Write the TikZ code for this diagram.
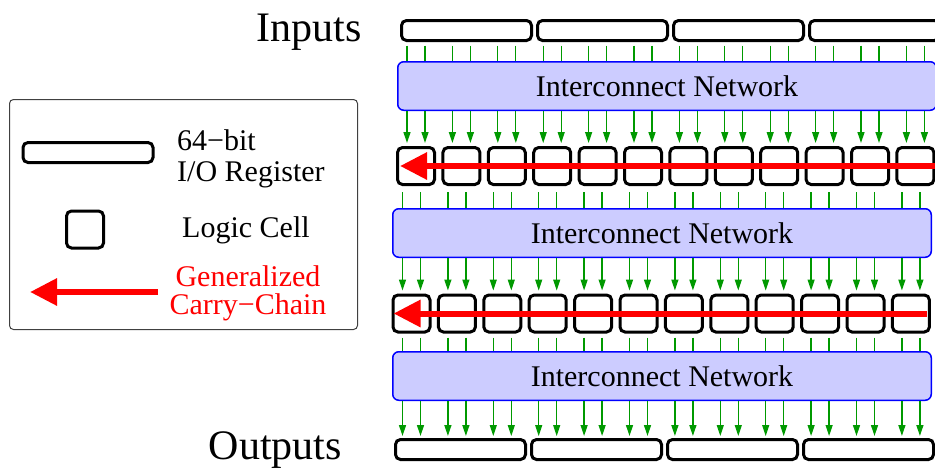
\documentclass[tikz,border=0pt]{standalone}
\usepackage{fontspec}
\setmainfont{Liberation Serif}
\usetikzlibrary{arrows.meta,positioning}

\begin{document}
\begin{tikzpicture}[x=1pt, y=-1pt, node distance=136pt,
  reg/.style = {draw, line width=3pt, rounded corners=5pt, minimum width=130pt, minimum height=20pt, inner sep=0pt},
  cell/.style = {draw, line width=3pt, rounded corners=5pt, minimum size=37pt, inner sep=0pt},
  net/.style = {draw=blue, fill=blue!20, line width=1.5pt, rounded corners=6pt, minimum width=538.5pt, minimum height=48.5pt, font=\fontsize{30}{30}\selectfont},
  link/.style = {draw=green!60!black, line width=1.3pt},
  feed/.style = {link, -{Triangle[length=11pt, width=7pt]}, shorten >=3pt},
  carry/.style = {draw=red, line width=6pt, -{Triangle[length=27pt, width=26pt]}},
  title/.style = {font=\fontsize{42}{42}\selectfont, inner sep=0pt},
  key/.style = {font=\fontsize{30}{31}\selectfont, inner sep=0pt}]

\useasboundingbox (0,0) rectangle (935,472);

% I/O registers
\node[reg] (in1) at (466.5,30.5) {};
\node[reg] (in2) [right of=in1] {};
\node[reg] (in3) [right of=in2] {};
\node[reg] (in4) [right of=in3] {};

\node[reg] (out1) at (460.5,449.5) {};
\node[reg] (out2) [right of=out1] {};
\node[reg] (out3) [right of=out2] {};
\node[reg] (out4) [right of=out3] {};

\node[title, anchor=base east] (inputs) at (362,41) {Inputs};
\node[title, anchor=base east] (outputs) at (342,459) {Outputs};

% networks
\node[net] (net1) at (667,86) {Interconnect Network};
\node[net] (net2) at (662,233) {Interconnect Network};
\node[net] (net3) at (662,376) {Interconnect Network};

% logic cells
\node[cell] (a1) at (416,166) {};
\node[cell] (b1) at (411.5,313.5) {};
\foreach \i [count=\j] in {2,...,12} {
  \node[cell, node distance=45.4pt] (a\i) [right of=a\j] {};
  \node[cell, node distance=45.4pt] (b\i) [right of=b\j] {};
}

% wires
\foreach \i in {1,...,12}
  \foreach \s in {-9,9} {
    \draw[link] ([xshift=\s pt, yshift=-3.5pt]a\i.north |- in1.south) -- ([xshift=\s pt]a\i.north |- net1.north);
    \draw[feed] ([xshift=\s pt]a\i.north |- net1.south) -- ([xshift=\s pt]a\i.north);
    \draw[link] ([xshift=\s pt, yshift=-6pt]b\i.north |- a1.south) -- ([xshift=\s pt]b\i.north |- net2.north);
    \draw[feed] ([xshift=\s pt]b\i.north |- net2.south) -- ([xshift=\s pt]b\i.north);
    \draw[link] ([xshift=\s pt, yshift=-4pt]b\i.south) -- ([xshift=\s pt]b\i.south |- net3.north);
    \draw[feed, shorten >=2pt] ([xshift=\s pt]b\i.south |- net3.south) -- ([xshift=\s pt]b\i.south |- out1.north);
  }

% carry chains
\draw[carry] (a12.east) -- ([xshift=4pt]a1.west);
\draw[carry] ([xshift=-4pt]b12.east) -- ([xshift=2pt]b1.west);

% legend
\node[draw=black!75, line width=1pt, rounded corners=4pt, minimum width=348pt, minimum height=230pt] (legend) at (183.5,214.5) {};
\node[reg] (kreg) at (88,152.5) {};
\node[key, anchor=west, align=left] (kregtxt) at (177,159) {64−bit\\I/O Register};
\node[cell] (kcell) at (85,229.5) {};
\node[key, anchor=base west] (kcelltxt) at (182,237) {Logic Cell};
\coordinate (ktail) at (158,292);
\coordinate (khead) at (30,292);
\draw[carry] (ktail) -- (khead);
\node[key, red, align=center, font=\fontsize{30}{28}\selectfont] (kcarrytxt) at (248,293) {Generalized\\Carry−Chain};

\end{tikzpicture}
\end{document}
